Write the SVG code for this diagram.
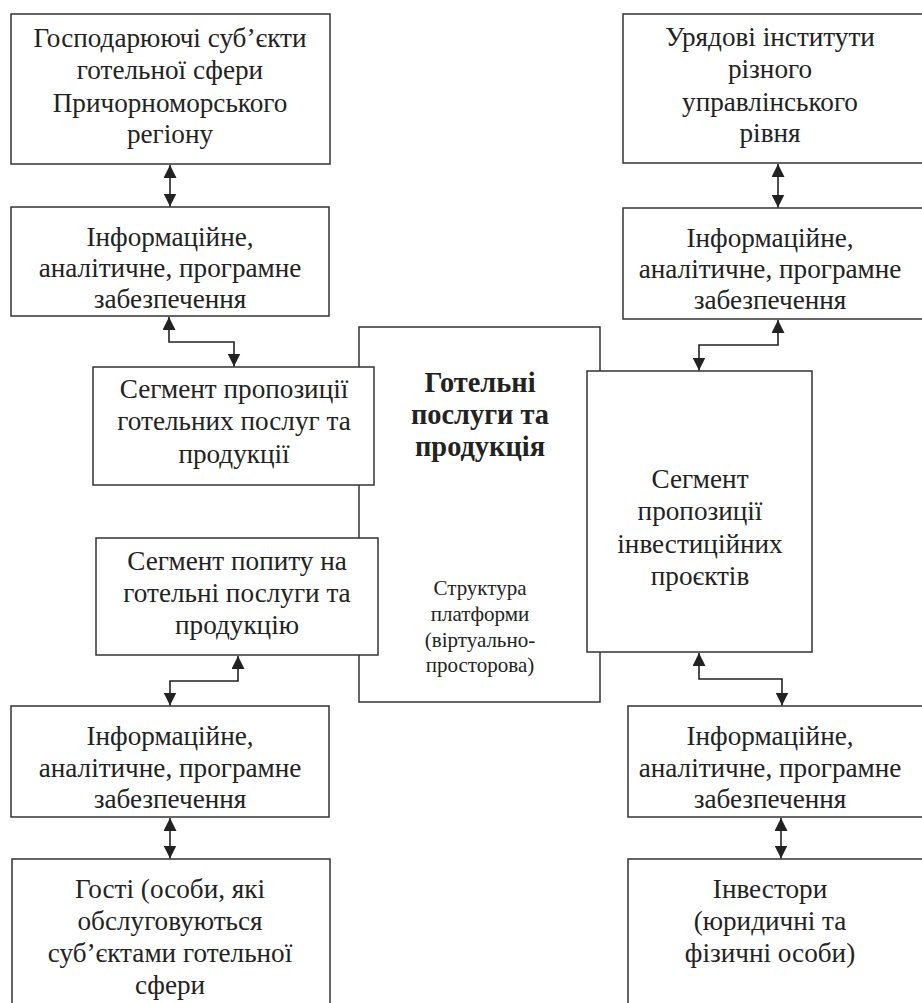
<svg xmlns="http://www.w3.org/2000/svg" width="922" height="1003" viewBox="0 0 922 1003">
<style>
.box{fill:#fff;stroke:#333;stroke-width:1.5}
.t{font-family:"Liberation Serif",serif;font-size:20px;fill:#222;text-anchor:middle}
.b{font-weight:bold}
.s{font-size:21px}
.c{fill:none;stroke:#222;stroke-width:1.6}
</style>
<defs>
<marker id="ah" viewBox="0 0 13 13" refX="13" refY="6.5" markerWidth="13" markerHeight="13" markerUnits="userSpaceOnUse" orient="auto-start-reverse">
<path d="M0,0 L13,6.5 L0,13 z" fill="#222"/>
</marker>
</defs>
<rect width="922" height="1003" fill="#fff"/>
<g id="center">
<rect class="box" x="359" y="327" width="241" height="375"/>
<text class="t b" transform="translate(480,392) scale(1.42)">Готельні</text>
<text class="t b" transform="translate(480,424) scale(1.42)">послуги та</text>
<text class="t b" transform="translate(480,456) scale(1.42)">продукція</text>
<text class="t s" x="480" y="595">Структура</text>
<text class="t s" x="480" y="621">платформи</text>
<text class="t s" x="480" y="647">(віртуально-</text>
<text class="t s" x="480" y="672">просторова)</text>
</g>

<g id="l1">
<rect class="box" x="11" y="14" width="319" height="150"/>
<text class="t" transform="translate(170,47) scale(1.36)">Господарюючі суб’єкти</text>
<text class="t" transform="translate(170,79) scale(1.36)">готельної сфери</text>
<text class="t" transform="translate(170,112) scale(1.36)">Причорноморського</text>
<text class="t" transform="translate(170,143) scale(1.36)">регіону</text>
</g>
<g id="l2">
<rect class="box" x="11" y="207" width="318" height="109"/>
<text class="t" transform="translate(170,246) scale(1.36)">Інформаційне,</text>
<text class="t" transform="translate(170,277) scale(1.36)">аналітичне, програмне</text>
<text class="t" transform="translate(170,308) scale(1.36)">забезпечення</text>
</g>
<g id="l3">
<rect class="box" x="93" y="367" width="281" height="118"/>
<text class="t" transform="translate(234,398) scale(1.36)">Сегмент пропозиції</text>
<text class="t" transform="translate(234,430) scale(1.36)">готельних послуг та</text>
<text class="t" transform="translate(234,463) scale(1.36)">продукції</text>
</g>
<g id="l4">
<rect class="box" x="96" y="538" width="282" height="117"/>
<text class="t" transform="translate(237,570) scale(1.36)">Сегмент попиту на</text>
<text class="t" transform="translate(237,602) scale(1.36)">готельні послуги та</text>
<text class="t" transform="translate(237,634) scale(1.36)">продукцію</text>
</g>
<g id="l5">
<rect class="box" x="11" y="706" width="318" height="111"/>
<text class="t" transform="translate(170,745) scale(1.36)">Інформаційне,</text>
<text class="t" transform="translate(170,777) scale(1.36)">аналітичне, програмне</text>
<text class="t" transform="translate(170,808) scale(1.36)">забезпечення</text>
</g>
<g id="l6">
<rect class="box" x="12" y="859" width="318" height="160"/>
<text class="t" transform="translate(170,898) scale(1.36)">Гості (особи, які</text>
<text class="t" transform="translate(170,930) scale(1.36)">обслуговуються</text>
<text class="t" transform="translate(170,962) scale(1.36)">суб’єктами готельної</text>
<text class="t" transform="translate(170,994) scale(1.36)">сфери</text>
</g>

<g id="r1">
<rect class="box" x="623" y="14" width="310" height="149"/>
<text class="t" transform="translate(770,46) scale(1.36)">Урядові інститути</text>
<text class="t" transform="translate(770,78) scale(1.36)">різного</text>
<text class="t" transform="translate(770,111) scale(1.36)">управлінського</text>
<text class="t" transform="translate(770,142) scale(1.36)">рівня</text>
</g>
<g id="r2">
<rect class="box" x="623" y="208" width="310" height="111"/>
<text class="t" transform="translate(770,247) scale(1.36)">Інформаційне,</text>
<text class="t" transform="translate(770,278) scale(1.36)">аналітичне, програмне</text>
<text class="t" transform="translate(770,309) scale(1.36)">забезпечення</text>
</g>
<g id="r3">
<rect class="box" x="587" y="371" width="225" height="281"/>
<text class="t" transform="translate(700,488) scale(1.36)">Сегмент</text>
<text class="t" transform="translate(700,520) scale(1.36)">пропозиції</text>
<text class="t" transform="translate(700,553) scale(1.36)">інвестиційних</text>
<text class="t" transform="translate(700,585) scale(1.36)">проєктів</text>
</g>
<g id="r4">
<rect class="box" x="628" y="706" width="305" height="111"/>
<text class="t" transform="translate(770,745) scale(1.36)">Інформаційне,</text>
<text class="t" transform="translate(770,777) scale(1.36)">аналітичне, програмне</text>
<text class="t" transform="translate(770,808) scale(1.36)">забезпечення</text>
</g>
<g id="r5">
<rect class="box" x="628" y="859" width="305" height="160"/>
<text class="t" transform="translate(770,898) scale(1.36)">Інвестори</text>
<text class="t" transform="translate(770,930) scale(1.36)">(юридичні та</text>
<text class="t" transform="translate(770,962) scale(1.36)">фізичні особи)</text>
</g>
<g id="connectors">
<path class="c" d="M170,165 L170,206.5" marker-start="url(#ah)" marker-end="url(#ah)"/>
<path class="c" d="M169,317 L169,342 L234,342 L234,366.5" marker-start="url(#ah)" marker-end="url(#ah)"/>
<path class="c" d="M238,656 L238,681 L170,681 L170,705.5" marker-start="url(#ah)" marker-end="url(#ah)"/>
<path class="c" d="M170,818 L170,858.5" marker-start="url(#ah)" marker-end="url(#ah)"/>
<path class="c" d="M778,164 L778,207.5" marker-start="url(#ah)" marker-end="url(#ah)"/>
<path class="c" d="M778,320 L778,345 L699,345 L699,370.5" marker-start="url(#ah)" marker-end="url(#ah)"/>
<path class="c" d="M699,653 L699,679 L782,679 L782,705.5" marker-start="url(#ah)" marker-end="url(#ah)"/>
<path class="c" d="M781,818 L781,858.5" marker-start="url(#ah)" marker-end="url(#ah)"/>
</g>
</svg>
